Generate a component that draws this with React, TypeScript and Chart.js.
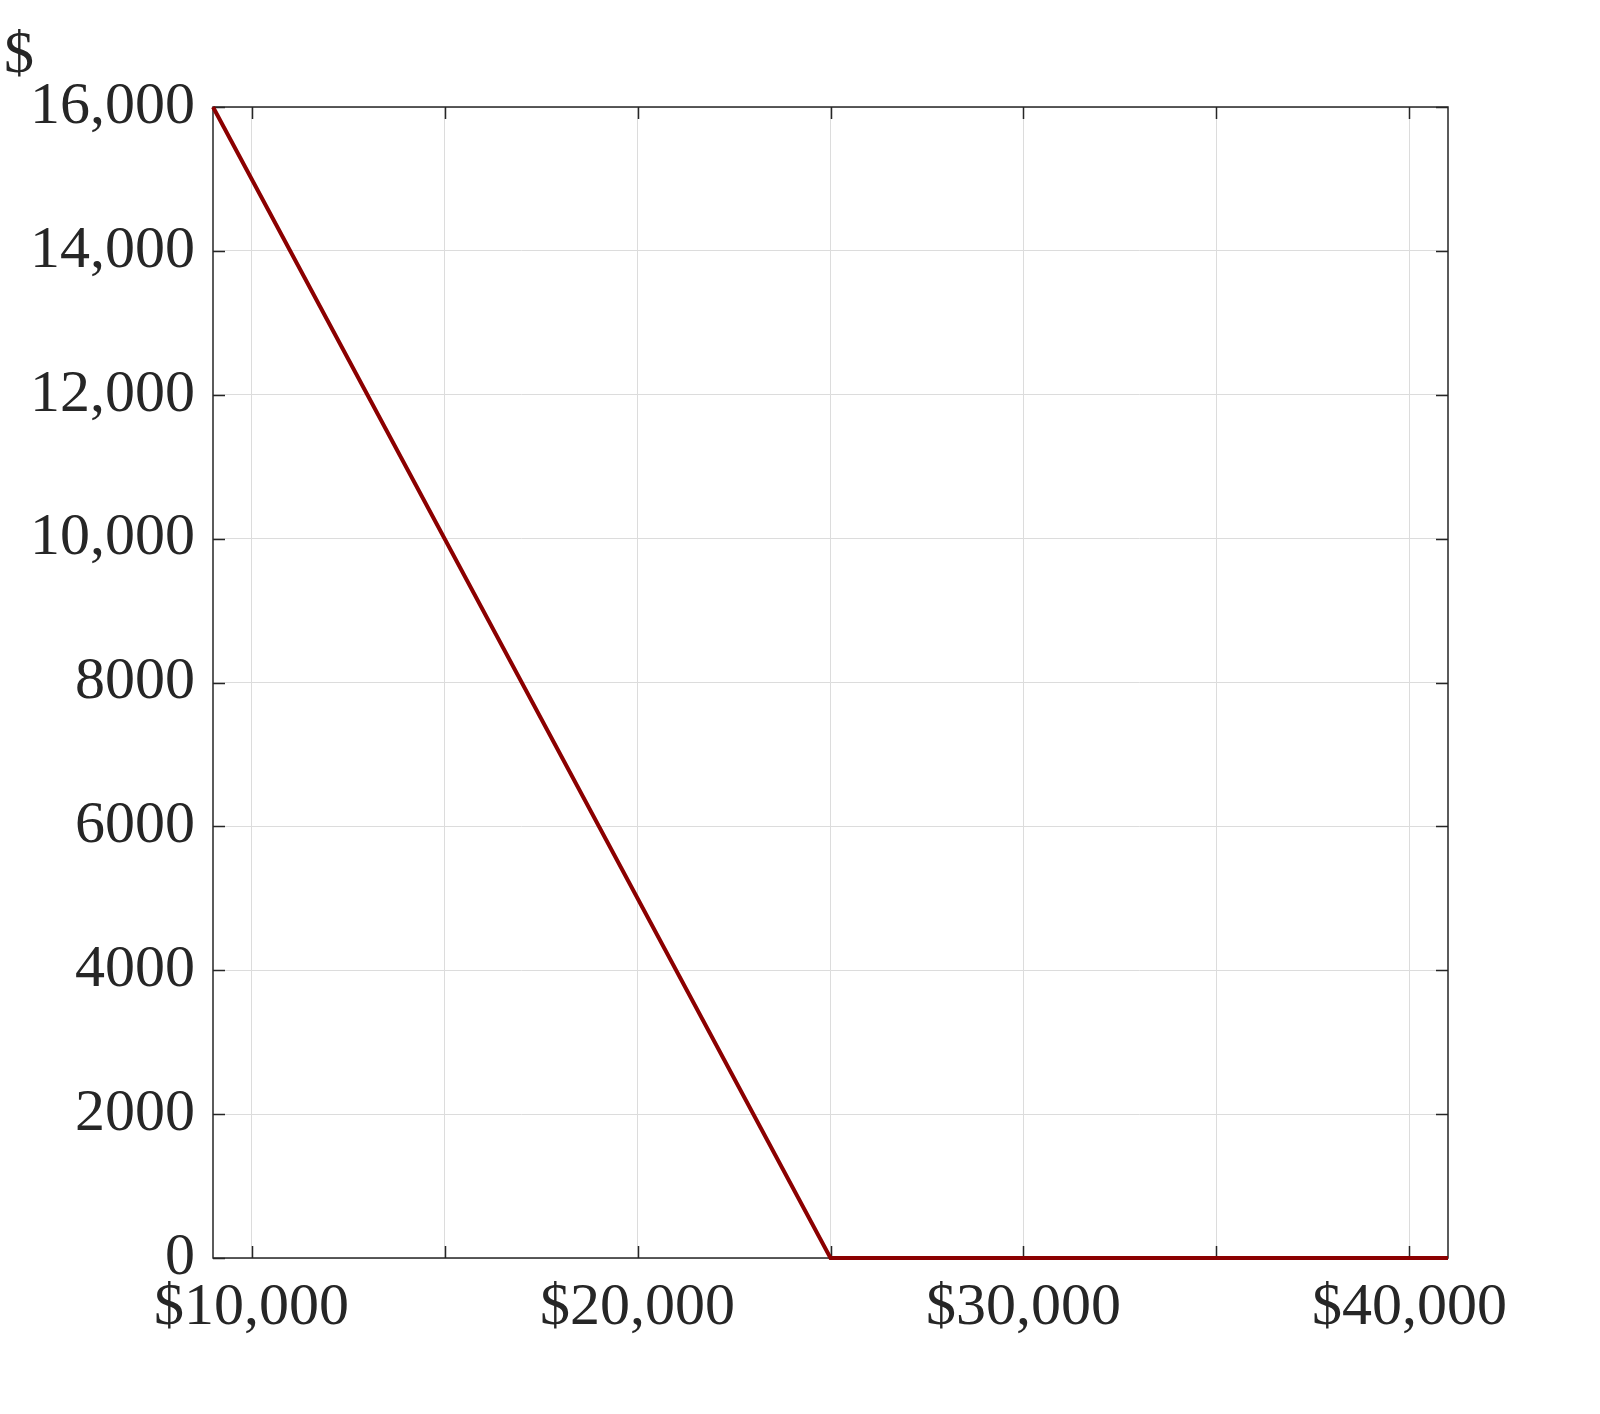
import React, { useEffect, useRef } from "react";
import { Chart, registerables } from "chart.js";

Chart.register(...registerables);

const incomeX = [9000, 25000, 41000];
const benefitY = [16000, 0, 0];
const xGridTicks = [10000, 15000, 20000, 25000, 30000, 35000, 40000];
const xLabelTicks = [10000, 20000, 30000, 40000];
const yTicks = [0, 2000, 4000, 6000, 8000, 10000, 12000, 14000, 16000];

const FONT = "'Liberation Serif', 'DejaVu Serif', serif";
const TEXT = "#262626";

function fmtNum(v: number): string {
  if (Math.abs(v) >= 10000) return v.toLocaleString("en-US");
  return String(v);
}

const framePlugin = {
  id: "frameTicks",
  beforeDatasetsDraw(chart: any) {
    const { ctx, chartArea } = chart;
    const { left, right, top, bottom } = chartArea;
    const xs = chart.scales.x;
    const ys = chart.scales.y;
    const L = 12;
    ctx.save();
    ctx.strokeStyle = TEXT;
    ctx.lineWidth = 1.5;
    ctx.beginPath();
    for (const v of xGridTicks) {
      const px = Math.round(xs.getPixelForValue(v)) + 0.5;
      ctx.moveTo(px, bottom);
      ctx.lineTo(px, bottom - L);
      ctx.moveTo(px, top);
      ctx.lineTo(px, top + L);
    }
    for (const v of yTicks) {
      const py = Math.round(ys.getPixelForValue(v)) + 0.5;
      ctx.moveTo(left, py);
      ctx.lineTo(left + L, py);
      ctx.moveTo(right, py);
      ctx.lineTo(right - L, py);
    }
    ctx.stroke();
    ctx.beginPath();
    ctx.rect(left, top, right - left, bottom - top);
    ctx.stroke();
    ctx.restore();
  },
  afterDraw(chart: any) {
    const { ctx } = chart;
    ctx.save();
    ctx.fillStyle = TEXT;
    ctx.font = `60px ${FONT}`;
    ctx.textAlign = "left";
    ctx.textBaseline = "alphabetic";
    ctx.fillText("$", 4, 72);
    ctx.restore();
  },
};

export default function App() {
  const ref = useRef<HTMLCanvasElement | null>(null);
  useEffect(() => {
    if (!ref.current) return;
    const data = incomeX.map((x, i) => ({ x, y: benefitY[i] }));
    const chart = new Chart(ref.current, {
      type: "line",
      data: {
        datasets: [
          {
            data,
            borderColor: "#8b0000",
            borderWidth: 4,
            pointRadius: 0,
            fill: false,
            tension: 0,
            clip: 6,
          },
        ],
      },
      options: {
        responsive: false,
        animation: false,
        layout: { padding: { left: 0, right: 152, top: 107, bottom: 0 } },
        plugins: { legend: { display: false }, tooltip: { enabled: false }, title: { display: false } },
        scales: {
          x: {
            type: "linear",
            min: 9000,
            max: 41000,
            afterBuildTicks: (s: any) => {
              s.ticks = xGridTicks.map((v) => ({ value: v }));
            },
            afterFit: (s: any) => {
              s.height = 1414 - 1258;
            },
            grid: { color: "#dcdcdc", lineWidth: 1, drawTicks: false },
            border: { display: false },
            ticks: {
              autoSkip: false,
              maxRotation: 0,
              padding: 14,
              color: TEXT,
              font: { family: FONT, size: 60 },
              callback: (v: any) => (xLabelTicks.includes(Number(v)) ? "$" + fmtNum(Number(v)) : ""),
            },
          },
          y: {
            type: "linear",
            min: 0,
            max: 16000,
            afterBuildTicks: (s: any) => {
              s.ticks = yTicks.map((v) => ({ value: v }));
            },
            afterFit: (s: any) => {
              s.width = 213;
            },
            grid: { color: "#dcdcdc", lineWidth: 1, drawTicks: false },
            border: { display: false },
            ticks: {
              autoSkip: false,
              padding: 18,
              color: TEXT,
              font: { family: FONT, size: 60 },
              callback: (v: any) => fmtNum(Number(v)),
            },
          },
        },
      },
      plugins: [framePlugin],
    });
    return () => chart.destroy();
  }, []);
  return (
    <div style={{ position: "fixed", left: 0, top: 0, width: 1600, height: 1414, background: "#fff" }}>
      <canvas ref={ref} width={1600} height={1414} style={{ display: "block" }} />
    </div>
  );
}
